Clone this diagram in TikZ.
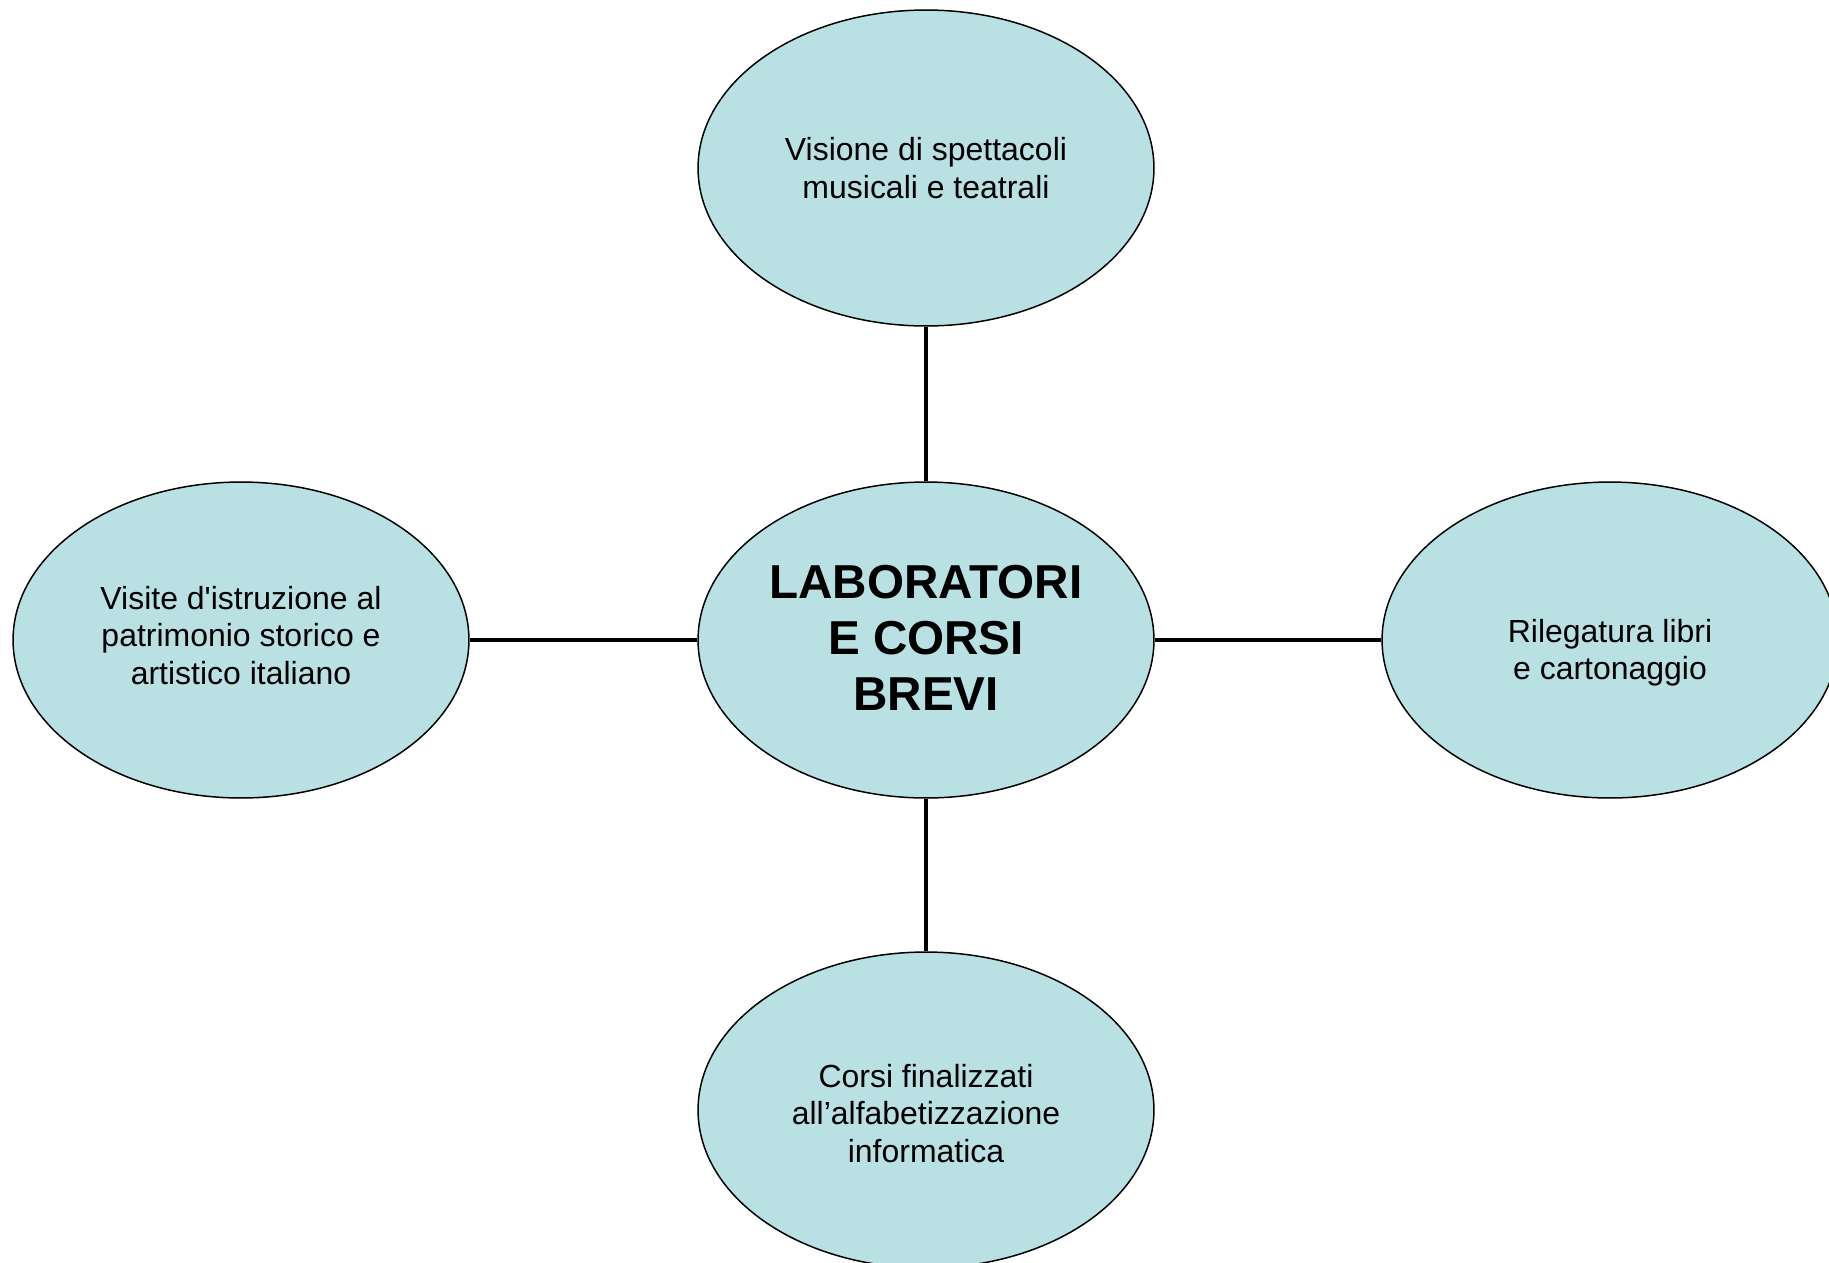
\documentclass[tikz,border=0pt]{standalone}
\usepackage{fontspec}
\setmainfont{Liberation Sans}[Ligatures=TeXOff]
\usetikzlibrary{shapes.geometric}
\definecolor{bolla}{RGB}{185,224,227}
\tikzset{
	bubble/.style={ellipse, draw=black, line width=0.85pt, fill=bolla, minimum width=9.12cm, minimum height=6.32cm, inner sep=0pt, align=center, font=\fontsize{18.2}{21.3}\selectfont},
	hub/.style={bubble, font=\fontsize{27.1}{31.9}\selectfont\bfseries},
	link/.style={line width=2.6pt}
}

\begin{document}
\begin{tikzpicture}[x=0.02cm, y=-0.02cm]
			%%%%% START %%%%%
			
			\useasboundingbox (0, 0) rectangle (1829, 1262);
			\clip (0, 0) rectangle (1829, 1262);
			
			\node[hub] (lab) at (926, 640) {LABORATORI\\E CORSI\\BREVI\rule[-0.1cm]{0pt}{0.1cm}};
			
			\node[bubble] (spett) at (926, 168) {Visione di spettacoli\\musicali e teatrali};
			\node[bubble] (visite) at (241, 640) {Visite d'istruzione al\\patrimonio storico e\\artistico italiano\rule[-0.2cm]{0pt}{0.2cm}};
			\node[bubble] (rileg) at (1610, 640) {\rule{0pt}{0.98cm}Rilegatura libri\\e cartonaggio};
			\node[bubble] (info) at (926, 1110) {\rule{0pt}{0.6cm}Corsi finalizzati\\all’alfabetizzazione\\informatica};
			
			\draw[link] (lab) -- (spett);
			\draw[link] (lab) -- (visite);
			\draw[link] (lab) -- (rileg);
			\draw[link] (lab) -- (info);
			
			%%%%% END %%%%%
		\end{tikzpicture}
\end{document}
